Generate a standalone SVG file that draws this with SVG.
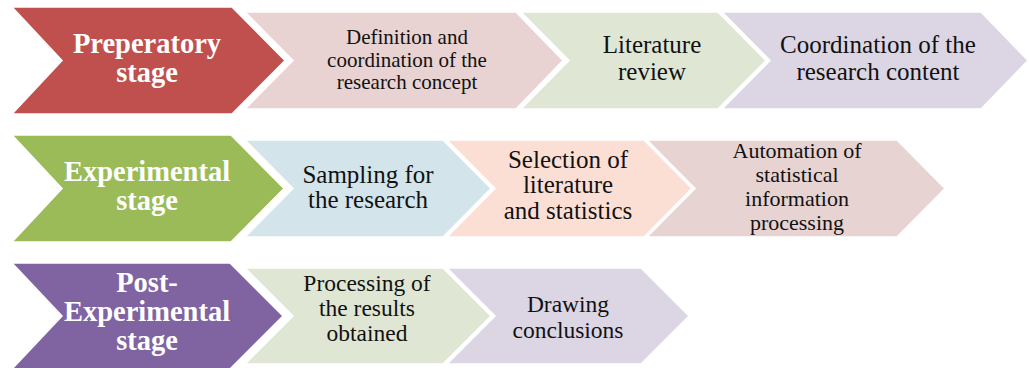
<svg xmlns="http://www.w3.org/2000/svg" width="1029" height="368" viewBox="0 0 1029 368">
<style>
.stage{font-family:"Liberation Serif","Times New Roman",serif;font-weight:bold;font-size:28.5px;fill:#ffffff;text-anchor:middle}
.step{font-family:"Liberation Serif","Times New Roman",serif;font-size:25px;fill:#111111;text-anchor:middle}
.sm{font-size:22px}
.xs{font-size:21px}
.md{font-size:23.5px}
.chev{stroke:#ffffff;stroke-width:1.5;stroke-linejoin:miter}
</style>
<rect width="1029" height="368" fill="#ffffff"/>
<g id="row1">
<g id="n-preparatory"><path class="chev" fill="#C0504D" d="M12,7 L232,7 L285,60.5 L232,114 L12,114 L62,60.5 Z"/>
<text class="stage" x="147" y="53">Preperatory</text><text class="stage" x="147" y="82">stage</text></g>
<g id="n-definition"><path class="chev" fill="#E8D3D2" d="M245,12 L516,12 L563,60.5 L516,109 L245,109 L293,60.5 Z"/>
<text class="step xs" x="407" y="44">Definition and</text><text class="step xs" x="407" y="66.5">coordination of the</text><text class="step xs" x="407" y="89">research concept</text></g>
<g id="n-literature"><path class="chev" fill="#DFE7D4" d="M521,12 L718,12 L766,60.5 L718,109 L521,109 L569,60.5 Z"/>
<text class="step" x="652" y="53">Literature</text><text class="step" x="652" y="80">review</text></g>
<g id="n-content"><path class="chev" fill="#DCD6E4" d="M722,12 L981,12 L1028,60.5 L981,109 L722,109 L770,60.5 Z"/>
<text class="step" x="878" y="53">Coordination of the</text><text class="step" x="878" y="80">research content</text></g>
</g>
<g id="row2">
<g id="n-experimental"><path class="chev" fill="#9BBB59" d="M12,135 L231,135 L284,188.5 L231,242 L12,242 L62,188.5 Z"/>
<text class="stage" x="147" y="181">Experimental</text><text class="stage" x="147" y="210">stage</text></g>
<g id="n-sampling"><path class="chev" fill="#D3E4EB" d="M245,140 L443,140 L491,188.5 L443,237 L245,237 L293,188.5 Z"/>
<text class="step" x="368" y="183">Sampling for</text><text class="step" x="368" y="208">the research</text></g>
<g id="n-selection"><path class="chev" fill="#FBDFD5" d="M447,140 L644,140 L692,188.5 L644,237 L447,237 L495,188.5 Z"/>
<text class="step" x="568" y="168">Selection of</text><text class="step" x="568" y="193">literature</text><text class="step" x="568" y="219">and statistics</text></g>
<g id="n-automation"><path class="chev" fill="#E8D3D3" d="M647,140 L897,140 L945,188.5 L897,237 L647,237 L695,188.5 Z"/>
<text class="step sm" x="797" y="158">Automation of</text><text class="step sm" x="797" y="182">statistical</text><text class="step sm" x="797" y="206">information</text><text class="step sm" x="797" y="230">processing</text></g>
</g>
<g id="row3">
<g id="n-post"><path class="chev" fill="#8064A2" d="M12,263 L230,263 L283,316 L230,369 L12,369 L62,316 Z"/>
<text class="stage" x="147" y="292">Post-</text><text class="stage" x="147" y="321">Experimental</text><text class="stage" x="147" y="350">stage</text></g>
<g id="n-processing"><path class="chev" fill="#DFE7D4" d="M245,268 L443,268 L491,316 L443,364 L245,364 L293,316 Z"/>
<text class="step md" x="367" y="291">Processing of</text><text class="step md" x="367" y="316">the results</text><text class="step md" x="367" y="341">obtained</text></g>
<g id="n-drawing"><path class="chev" fill="#DCD6E4" d="M447,268 L641,268 L689,316 L641,364 L447,364 L495,316 Z"/>
<text class="step md" x="568" y="312">Drawing</text><text class="step md" x="568" y="337.5">conclusions</text></g>
</g>
<g id="connectors"></g>
</svg>
